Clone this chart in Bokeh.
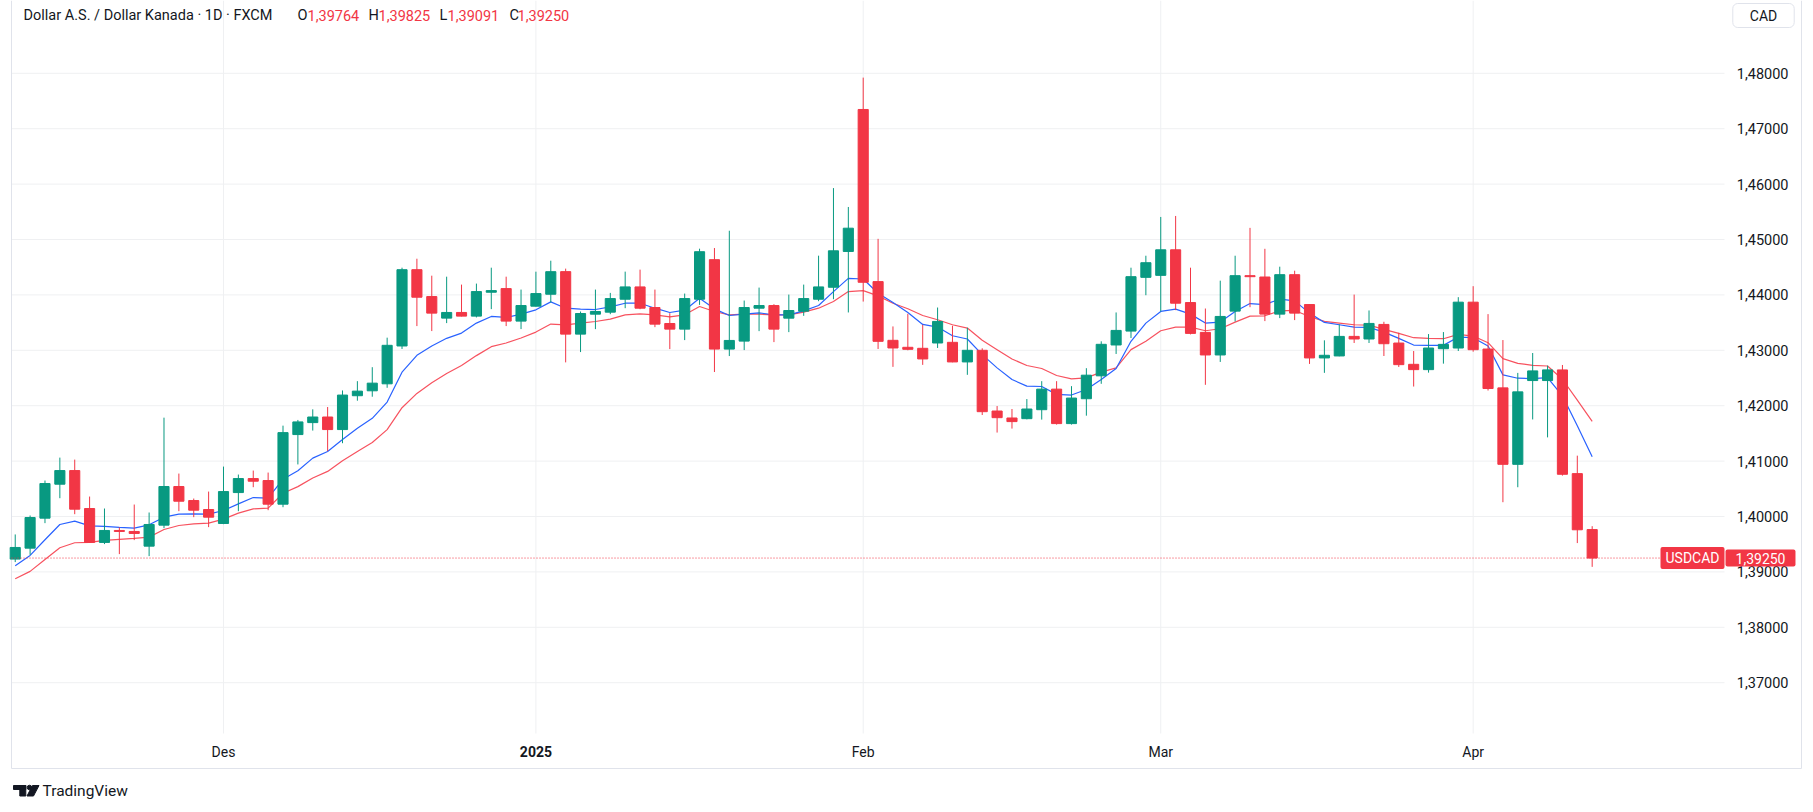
from bokeh.plotting import figure
from bokeh.models import Range1d, Label, ColumnDataSource
from bokeh.core.properties import value
from bokeh.embed import file_html
from bokeh.resources import INLINE

# ---------------- data ----------------
OPEN = [1.39231, 1.39429, 1.39970, 1.40583, 1.40829, 1.40144, 1.39532, 1.39748, 1.39730, 1.39465,
        1.39844, 1.40541, 1.40288, 1.40126, 1.39874, 1.40432, 1.40685, 1.40649, 1.40222, 1.41479,
        1.41695, 1.41796, 1.41569, 1.42180, 1.42269, 1.42395, 1.43078, 1.44455, 1.43970, 1.43581,
        1.43683, 1.43617, 1.44048, 1.44114, 1.43527, 1.43796, 1.44012, 1.44420, 1.43292, 1.43652,
        1.43688, 1.43922, 1.44144, 1.43772, 1.43484, 1.43382, 1.43922, 1.44636, 1.43022, 1.43166,
        1.43760, 1.43808, 1.43580, 1.43706, 1.43922, 1.44138, 1.44784, 1.47347, 1.44240, 1.43180,
        1.43054, 1.43036, 1.43132, 1.43144, 1.42790, 1.43000, 1.41904, 1.41778, 1.41766, 1.41928,
        1.42299, 1.41677, 1.42126, 1.42539, 1.43096, 1.43347, 1.44317, 1.44353, 1.44814, 1.43862,
        1.43323, 1.42916, 1.43707, 1.44347, 1.44323, 1.43653, 1.44365, 1.43826, 1.42862, 1.42898,
        1.43251, 1.43204, 1.43467, 1.43131, 1.42747, 1.42651, 1.43029, 1.43041, 1.43869, 1.43023,
        1.42322, 1.40942, 1.42454, 1.42454, 1.42646, 1.40774, 1.39764]
HIGH = [1.39676, 1.40018, 1.40649, 1.41063, 1.41027, 1.40360, 1.40144, 1.39802, 1.40216, 1.40072,
        1.41784, 1.40775, 1.40324, 1.40450, 1.40901, 1.40757, 1.40829, 1.40793, 1.41640, 1.41743,
        1.41934, 1.41976, 1.42275, 1.42443, 1.42695, 1.43228, 1.44491, 1.44653, 1.44347, 1.44329,
        1.44186, 1.44204, 1.44491, 1.44329, 1.44096, 1.44419, 1.44617, 1.44474, 1.43700, 1.44096,
        1.44036, 1.44420, 1.44456, 1.44096, 1.43670, 1.44024, 1.44834, 1.44846, 1.45158, 1.43898,
        1.44132, 1.43832, 1.44006, 1.44186, 1.44708, 1.45928, 1.45587, 1.47922, 1.45012, 1.43431,
        1.43659, 1.43461, 1.43772, 1.43443, 1.43407, 1.43036, 1.41994, 1.41940, 1.42120, 1.42443,
        1.42443, 1.42353, 1.42677, 1.43162, 1.43683, 1.44491, 1.44707, 1.45407, 1.45425, 1.44491,
        1.43754, 1.44257, 1.44707, 1.45210, 1.44832, 1.44509, 1.44437, 1.43826, 1.43180, 1.43467,
        1.44006, 1.43719, 1.43515, 1.43317, 1.42987, 1.43293, 1.43329, 1.43959, 1.44157, 1.43653,
        1.43185, 1.42592, 1.42951, 1.42723, 1.42735, 1.41098, 1.39825]
LOW = [1.39177, 1.39309, 1.39880, 1.40330, 1.40042, 1.39526, 1.39502, 1.39321, 1.39574, 1.39285,
       1.39790, 1.40096, 1.39988, 1.39808, 1.39862, 1.40096, 1.40529, 1.40114, 1.40168, 1.40940,
       1.41551, 1.41180, 1.41323, 1.42090, 1.42162, 1.42323, 1.43024, 1.43437, 1.43347, 1.43491,
       1.43611, 1.43593, 1.43743, 1.43437, 1.43383, 1.43790, 1.43862, 1.42782, 1.42968, 1.43382,
       1.43652, 1.43760, 1.43742, 1.43418, 1.43022, 1.43184, 1.43820, 1.42608, 1.42896, 1.43004,
       1.43346, 1.43148, 1.43328, 1.43622, 1.43886, 1.43922, 1.43683, 1.43880, 1.43024, 1.42701,
       1.43000, 1.42737, 1.43042, 1.42784, 1.42557, 1.41832, 1.41515, 1.41587, 1.41754, 1.41749,
       1.41659, 1.41659, 1.41820, 1.42395, 1.42934, 1.43222, 1.43994, 1.43701, 1.43725, 1.43287,
       1.42377, 1.42790, 1.43521, 1.43778, 1.43527, 1.43581, 1.43545, 1.42754, 1.42593, 1.42892,
       1.43132, 1.43132, 1.42897, 1.42699, 1.42346, 1.42597, 1.42759, 1.42987, 1.42975, 1.42274,
       1.40258, 1.40528, 1.41752, 1.41428, 1.40738, 1.39520, 1.39091]
CLOSE = [1.39441, 1.39982, 1.40595, 1.40829, 1.40132, 1.39532, 1.39748, 1.39730, 1.39694, 1.39856,
         1.40541, 1.40276, 1.40114, 1.39988, 1.40450, 1.40685, 1.40637, 1.40222, 1.41514, 1.41707,
         1.41796, 1.41569, 1.42192, 1.42263, 1.42407, 1.43090, 1.44455, 1.43958, 1.43671, 1.43683,
         1.43617, 1.44060, 1.44078, 1.43527, 1.43808, 1.44024, 1.44419, 1.43292, 1.43664, 1.43700,
         1.43934, 1.44144, 1.43760, 1.43472, 1.43382, 1.43934, 1.44780, 1.43022, 1.43178, 1.43772,
         1.43808, 1.43382, 1.43718, 1.43934, 1.44144, 1.44796, 1.45204, 1.44228, 1.43162, 1.43042,
         1.43018, 1.42844, 1.43521, 1.42790, 1.43000, 1.41892, 1.41784, 1.41713, 1.41940, 1.42299,
         1.41677, 1.42138, 1.42551, 1.43108, 1.43359, 1.44329, 1.44581, 1.44814, 1.43850, 1.43305,
         1.42916, 1.43611, 1.44347, 1.44329, 1.43653, 1.44365, 1.43671, 1.42862, 1.42910, 1.43251,
         1.43204, 1.43485, 1.43119, 1.42741, 1.42651, 1.43041, 1.43107, 1.43869, 1.43011, 1.42310,
         1.40942, 1.42250, 1.42628, 1.42646, 1.40762, 1.39760, 1.39250]
MA_FAST = [1.39111, 1.39297, 1.39580, 1.39856, 1.39916, 1.39832, 1.39820, 1.39802, 1.39790, 1.39850,
           1.39988, 1.40042, 1.40048, 1.40042, 1.40108, 1.40228, 1.40342, 1.40330, 1.40673, 1.40826,
           1.41054, 1.41174, 1.41389, 1.41593, 1.41772, 1.42066, 1.42605, 1.42910, 1.43078, 1.43216,
           1.43311, 1.43491, 1.43611, 1.43593, 1.43653, 1.43731, 1.43874, 1.43760, 1.43742, 1.43736,
           1.43784, 1.43850, 1.43850, 1.43760, 1.43682, 1.43724, 1.43940, 1.43748, 1.43628, 1.43652,
           1.43676, 1.43640, 1.43640, 1.43712, 1.43808, 1.44060, 1.44299, 1.44287, 1.44030, 1.43862,
           1.43683, 1.43467, 1.43419, 1.43263, 1.43204, 1.42922, 1.42683, 1.42473, 1.42353, 1.42347,
           1.42204, 1.42192, 1.42293, 1.42473, 1.42671, 1.43162, 1.43491, 1.43701, 1.43743, 1.43653,
           1.43491, 1.43509, 1.43701, 1.43844, 1.43826, 1.43922, 1.43892, 1.43671, 1.43503, 1.43461,
           1.43419, 1.43413, 1.43329, 1.43215, 1.43095, 1.43089, 1.43089, 1.43239, 1.43227, 1.43077,
           1.42556, 1.42496, 1.42490, 1.42508, 1.42178, 1.41638, 1.41080]
MA_SLOW = [1.38877, 1.39009, 1.39225, 1.39435, 1.39526, 1.39532, 1.39568, 1.39586, 1.39604, 1.39628,
           1.39766, 1.39838, 1.39868, 1.39880, 1.39952, 1.40060, 1.40138, 1.40150, 1.40420, 1.40539,
           1.40695, 1.40814, 1.41006, 1.41174, 1.41335, 1.41569, 1.41964, 1.42222, 1.42413, 1.42581,
           1.42725, 1.42904, 1.43066, 1.43132, 1.43222, 1.43329, 1.43473, 1.43460, 1.43490, 1.43520,
           1.43562, 1.43640, 1.43658, 1.43640, 1.43604, 1.43640, 1.43790, 1.43700, 1.43640, 1.43652,
           1.43652, 1.43640, 1.43640, 1.43688, 1.43760, 1.43880, 1.44060, 1.44078, 1.43982, 1.43850,
           1.43749, 1.43629, 1.43551, 1.43461, 1.43401, 1.43180, 1.43012, 1.42844, 1.42725, 1.42671,
           1.42545, 1.42485, 1.42503, 1.42605, 1.42683, 1.43012, 1.43162, 1.43353, 1.43419, 1.43419,
           1.43353, 1.43389, 1.43509, 1.43617, 1.43623, 1.43713, 1.43719, 1.43611, 1.43521, 1.43491,
           1.43461, 1.43455, 1.43377, 1.43305, 1.43227, 1.43215, 1.43209, 1.43287, 1.43257, 1.43137,
           1.42849, 1.42765, 1.42729, 1.42717, 1.42477, 1.42100, 1.41716]

PRICE_TICKS = [1.37, 1.38, 1.39, 1.40, 1.41, 1.42, 1.43, 1.44, 1.45, 1.46, 1.47, 1.48]
MONTH_TICKS = [14, 57, 77, 98]
MONTH_LABELS = ["Des", "Feb", "Mar", "Apr"]
YEAR_TICK = 35
YEAR_LABEL = "2025"
TITLE = "Dollar A.S. / Dollar Kanada \u00b7 1D \u00b7 FXCM"
SYMBOL = "USDCAD"
CURRENCY = "CAD"
BRAND = "TradingView"

# ---------------- style / layout ----------------
UP = "#089981"
DOWN = "#f23645"
TXT = "#131722"
GRID = "#eff0f2"
BORDER = "#e0e3eb"
FONT = "Roboto"

W, H = 1813, 812
BAR_PX = 14.877          # pixels per bar
PX_PER_UNIT = 5540.0     # pixels per 1.0 of price
XMIN = -0.25 - 11 / BAR_PX
YMAX = 1.40 + 516 / PX_PER_UNIT
XMAX = XMIN + W / BAR_PX
YMIN = YMAX - H / PX_PER_UNIT


def xpx(px):
    return XMIN + px / BAR_PX


def ypx(py):
    return YMAX - py / PX_PER_UNIT


def fmt(v):
    return f"{v:.5f}".replace(".", ",")


PLOT_L, PLOT_R = xpx(11), xpx(1724)
PLOT_T, PLOT_B = ypx(0), ypx(733)

n = len(CLOSE)
idx = list(range(n))
colors = [UP if c >= o else DOWN for o, c in zip(OPEN, CLOSE)]
src = ColumnDataSource(dict(
    x=idx, h=HIGH, l=LOW,
    top=[max(o, c) for o, c in zip(OPEN, CLOSE)],
    bottom=[min(o, c) for o, c in zip(OPEN, CLOSE)],
    color=colors,
))

p = figure(width=W, height=H, title=None,
           x_range=Range1d(XMIN, XMAX), y_range=Range1d(YMIN, YMAX),
           x_axis_location=None, y_axis_location=None,
           toolbar_location=None, output_backend="svg",
           min_border=0)
p.outline_line_color = None
p.background_fill_color = "white"
p.border_fill_color = "white"
p.xgrid.visible = False
p.ygrid.visible = False

# grid lines (price and time)
nt = len(PRICE_TICKS)
p.segment(x0=[PLOT_L] * nt, y0=PRICE_TICKS, x1=[PLOT_R] * nt, y1=PRICE_TICKS,
          line_color=GRID, line_width=1)
time_ticks = sorted(MONTH_TICKS + [YEAR_TICK])
p.segment(x0=time_ticks, y0=[PLOT_B] * len(time_ticks), x1=time_ticks,
          y1=[PLOT_T] * len(time_ticks), line_color=GRID, line_width=1)

# chart border (left, bottom, right)
bx_l, bx_r, by_b = xpx(11), xpx(1801), ypx(768)
p.segment(x0=[bx_l, bx_l, bx_r], y0=[YMAX, by_b, by_b],
          x1=[bx_l, bx_r, bx_r], y1=[by_b, by_b, YMAX],
          line_color=BORDER, line_width=1)

# moving averages
p.line(idx, MA_SLOW, line_color="#f7525f", line_width=1.2)
p.line(idx, MA_FAST, line_color="#2962ff", line_width=1.2)

# candles
p.segment(x0="x", y0="h", x1="x", y1="l", line_color="color", line_width=1, source=src)
p.vbar(x="x", width=0.68, top="top", bottom="bottom", fill_color="color",
       line_color="color", line_width=1, source=src)

# last price dotted line
last_col = DOWN if CLOSE[-1] < OPEN[-1] else UP
p.segment(x0=[PLOT_L], y0=[CLOSE[-1]], x1=[xpx(1660)], y1=[CLOSE[-1]],
          line_color=last_col, line_width=1, line_dash="1 2")

# price scale labels
p.text(x=[xpx(1788)] * nt, y=PRICE_TICKS, text=[fmt(t) for t in PRICE_TICKS],
       text_align="right", text_baseline="middle", text_font=value(FONT),
       text_font_size="14.5px", text_color=TXT)

# time scale labels
y_time = ypx(751)
p.text(x=MONTH_TICKS, y=[y_time] * len(MONTH_TICKS), text=MONTH_LABELS,
       text_align="center", text_baseline="middle", text_font=value(FONT),
       text_font_size="14px", text_color=TXT)
p.text(x=[YEAR_TICK], y=[y_time], text=[YEAR_LABEL],
       text_align="center", text_baseline="middle", text_font=value(FONT),
       text_font_size="14px", text_font_style="bold", text_color=TXT)

# title row
parts = [(23, TITLE, TXT),
         (297, "O", TXT), (307, fmt(OPEN[-1]), last_col),
         (368, "H", TXT), (378, fmt(HIGH[-1]), last_col),
         (439, "L", TXT), (447, fmt(LOW[-1]), last_col),
         (509, "C", TXT), (517, fmt(CLOSE[-1]), last_col)]
for sx, t, col in parts:
    p.add_layout(Label(x=sx, y=H - 15, x_units="screen", y_units="screen", text=t,
                       text_align="left", text_baseline="middle", text_font=FONT,
                       text_font_size="14.5px", text_color=col))

# currency box
p.add_layout(Label(x=1763, y=H - 15, x_units="screen", y_units="screen", text=CURRENCY,
                   text_align="center", text_baseline="middle", text_font=FONT,
                   text_font_size="14px", text_color=TXT, background_fill_color="white",
                   border_line_color=BORDER, border_radius=5, padding=(17, 4)))

# price tags
p.add_layout(Label(x=1692, y=CLOSE[-1], x_units="screen", y_units="data", text=SYMBOL,
                   text_align="center", text_baseline="middle", text_font=FONT,
                   text_font_size="14px", text_color="white", background_fill_color=last_col,
                   padding=(5, 3), border_radius=2))
p.add_layout(Label(x=1760, y=CLOSE[-1], x_units="screen", y_units="data", text=fmt(CLOSE[-1]),
                   text_align="center", text_baseline="middle", text_font=FONT,
                   text_font_size="14px", text_color="white", background_fill_color=last_col,
                   padding=(10, 3), border_radius=2))

# brand logo + name
p.quad(left=[xpx(13)], right=[xpx(25.3)], top=[ypx(785)], bottom=[ypx(789)], color=TXT)
p.quad(left=[xpx(19.3)], right=[xpx(25.3)], top=[ypx(785)], bottom=[ypx(795.5)], color=TXT)
p.scatter(x=[xpx(29)], y=[ypx(787)], size=4.5, color=TXT)
p.patch(x=[xpx(32), xpx(38.5), xpx(33), xpx(26.5)],
        y=[ypx(785), ypx(785), ypx(795.5), ypx(795.5)], color=TXT)
p.add_layout(Label(x=42, y=H - 790, x_units="screen", y_units="screen", text=BRAND,
                   text_align="left", text_baseline="middle", text_font=FONT,
                   text_font_size="15.5px", text_color=TXT))

open("out.html", "w").write(file_html(p, INLINE))
